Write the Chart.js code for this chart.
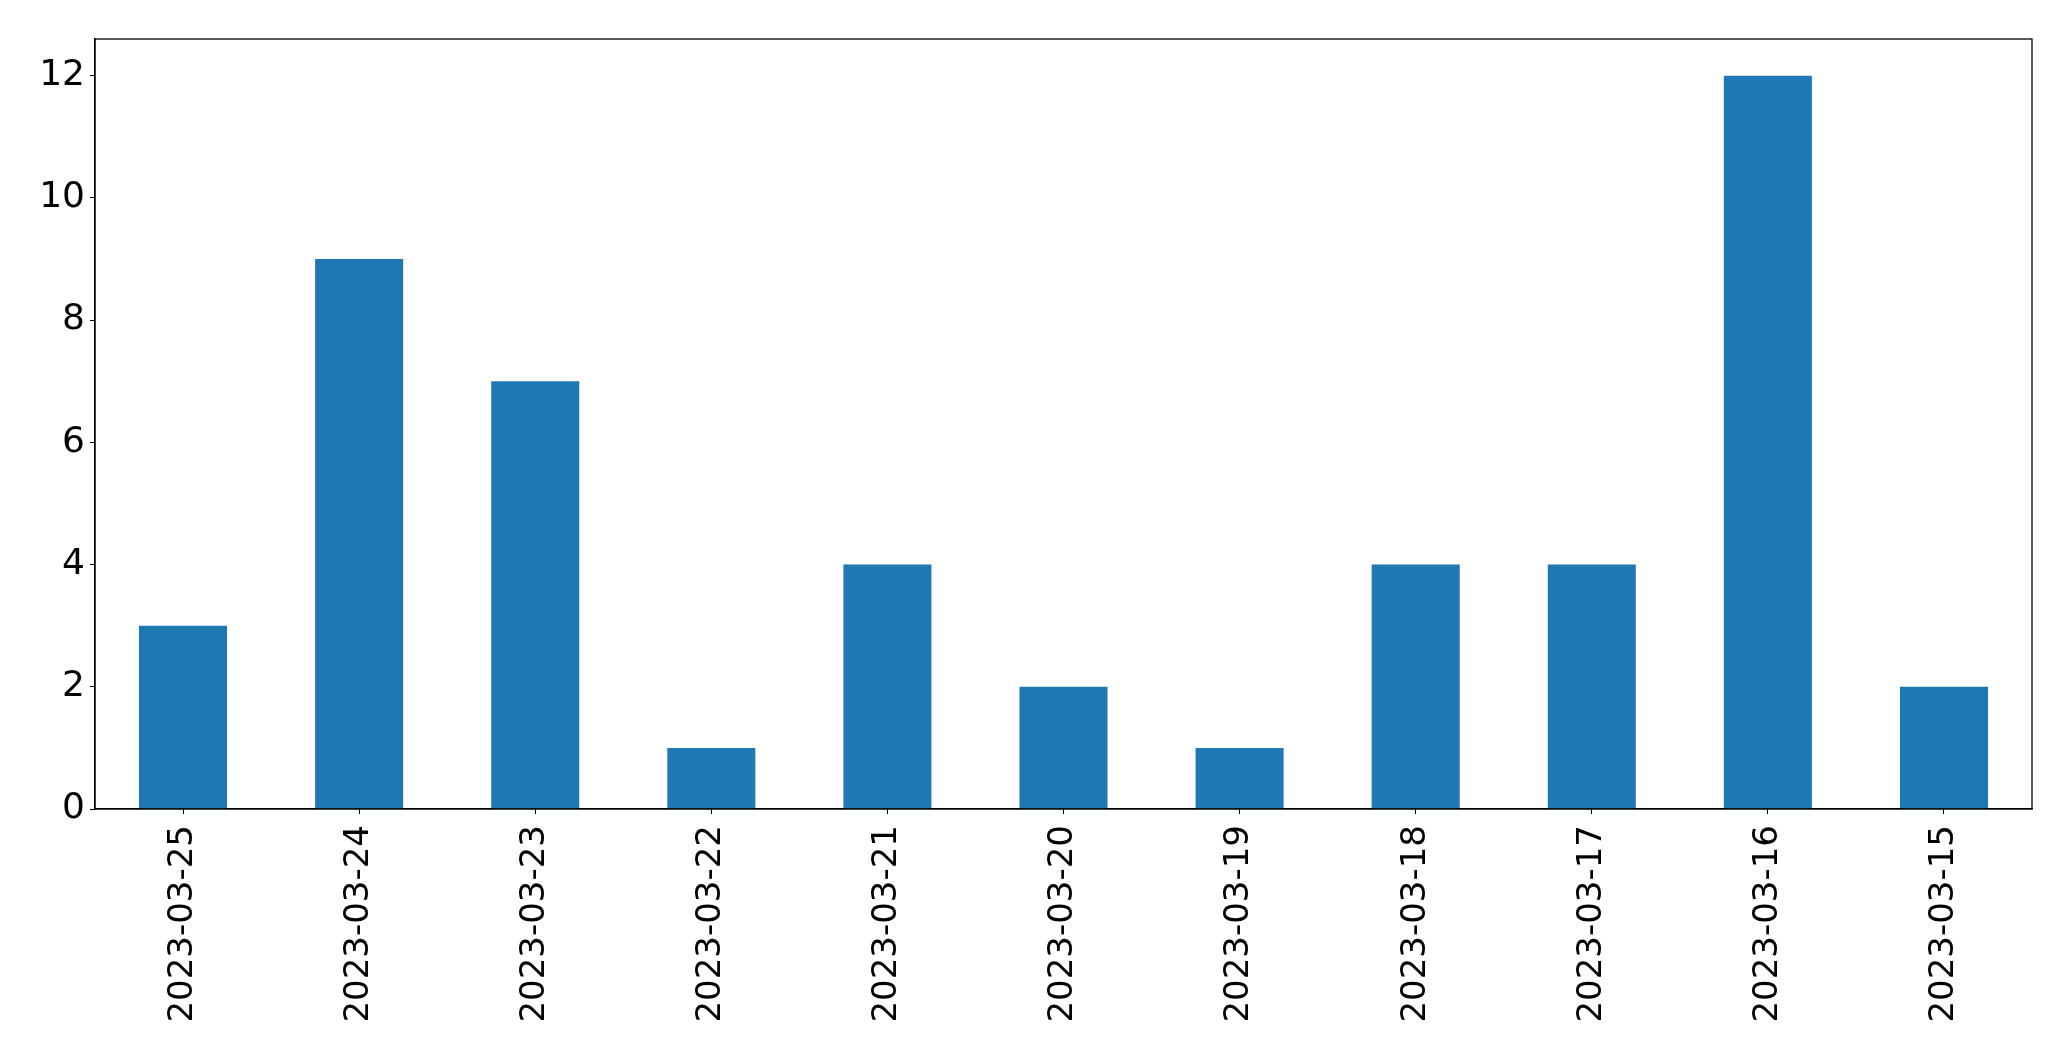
<!DOCTYPE html>
<html>
<head>
<meta charset="utf-8">
<script src="https://cdn.jsdelivr.net/npm/chart.js@4"></script>
<style>
  html, body { margin: 0; padding: 0; background: #fff; }
  #wrap { width: 2071px; height: 1061px; }
</style>
</head>
<body>
<div id="wrap"><canvas id="chart" width="2071" height="1061"></canvas></div>
<script>
const dates = ['2023-03-25', '2023-03-24', '2023-03-23', '2023-03-22', '2023-03-21', '2023-03-20',
  '2023-03-19', '2023-03-18', '2023-03-17', '2023-03-16', '2023-03-15'];
const counts = [3, 9, 7, 1, 4, 2, 1, 4, 4, 12, 2];
const yTicks = [0, 2, 4, 6, 8, 10, 12];

// matplotlib style frame around the plot area
const frame = {
  id: 'frame',
  afterDraw(chart) {
    const a = chart.chartArea;
    const ctx = chart.ctx;
    ctx.save();
    ctx.strokeStyle = '#000';
    ctx.lineWidth = 1.3;
    ctx.strokeRect(a.left, a.top, a.right - a.left, a.bottom - a.top);
    ctx.restore();
  }
};

new Chart(document.getElementById('chart'), {
  type: 'bar',
  data: {
    labels: dates,
    datasets: [{
      data: counts,
      backgroundColor: '#1f77b4',
      barPercentage: 0.5,
      categoryPercentage: 1.0
    }]
  },
  options: {
    responsive: false,
    animation: false,
    layout: { padding: { top: 39, right: 39, left: 0, bottom: 0 } },
    plugins: { legend: { display: false }, tooltip: { enabled: false } },
    scales: {
      x: {
        afterFit(scale) { scale.height = 252; },
        grid: { offset: false, drawOnChartArea: false, drawTicks: true, tickLength: 5, tickColor: '#000' },
        border: { display: true, color: '#000', width: 1.3 },
        ticks: {
          color: '#000',
          font: { family: 'DejaVu Sans', size: 34 },
          minRotation: 90,
          maxRotation: 90,
          padding: 11,
          autoSkip: false
        }
      },
      y: {
        min: 0,
        max: 12.6,
        afterFit(scale) { scale.width = 95; },
        afterBuildTicks(scale) { scale.ticks = yTicks.map(v => ({ value: v })); },
        grid: { drawOnChartArea: false, drawTicks: true, tickLength: 5, tickColor: '#000' },
        border: { display: true, color: '#000', width: 1.3 },
        ticks: {
          color: '#000',
          font: { family: 'DejaVu Sans', size: 36 },
          padding: 5
        }
      }
    }
  },
  plugins: [frame]
});
</script>
</body>
</html>
